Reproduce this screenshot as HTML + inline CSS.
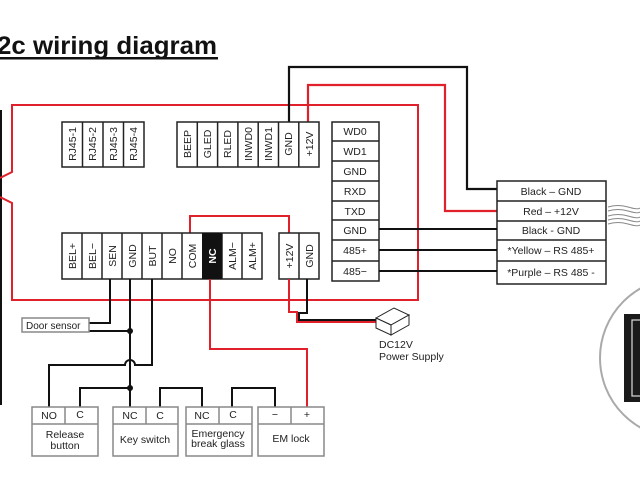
<!DOCTYPE html>
<html><head><meta charset="utf-8"><style>
html,body{margin:0;padding:0;background:#fff;width:640px;height:480px;overflow:hidden}
svg{display:block}
text{font-family:"Liberation Sans",sans-serif;fill:#222}
</style></head><body>
<svg width="640" height="480" viewBox="0 0 640 480" xmlns="http://www.w3.org/2000/svg">
<!-- title -->
<text x="-3" y="54" font-size="25" font-weight="bold" textLength="220" lengthAdjust="spacingAndGlyphs" style="fill:#111">2c wiring diagram</text>
<rect x="0" y="57" width="218" height="2.5" fill="#111"/>

<line x1="1" y1="110" x2="1" y2="405" stroke="#111" stroke-width="2"/>

<polyline points="0,178 12,172 12,105 418,105 418,300 12,300 12,203 0,197" fill="none" stroke="#e0202a" stroke-width="2"/>

<polyline points="289,122 289,67 467,67 467,189 498,189" fill="none" stroke="#111" stroke-width="2.2"/>
<polyline points="308,122 308,85 445,85 445,211 498,211" fill="none" stroke="#e0202a" stroke-width="2.2"/>
<polyline points="190,233 190,216 289,216 289,233" fill="none" stroke="#e0202a" stroke-width="2"/>

<g stroke="#222" stroke-width="1.5" fill="#fff">
<rect x="62" y="122" width="82" height="45"/>
<line x1="82.5" y1="122" x2="82.5" y2="167"/><line x1="103" y1="122" x2="103" y2="167"/><line x1="123.5" y1="122" x2="123.5" y2="167"/>
<rect x="177" y="122" width="142" height="45"/>
<line x1="197.3" y1="122" x2="197.3" y2="167"/><line x1="217.6" y1="122" x2="217.6" y2="167"/><line x1="237.9" y1="122" x2="237.9" y2="167"/><line x1="258.2" y1="122" x2="258.2" y2="167"/><line x1="278.5" y1="122" x2="278.5" y2="167"/><line x1="298.8" y1="122" x2="298.8" y2="167"/>
<rect x="62" y="233" width="200" height="46"/>
<line x1="82" y1="233" x2="82" y2="279"/><line x1="102" y1="233" x2="102" y2="279"/><line x1="122" y1="233" x2="122" y2="279"/><line x1="142" y1="233" x2="142" y2="279"/><line x1="162" y1="233" x2="162" y2="279"/><line x1="182" y1="233" x2="182" y2="279"/><line x1="222" y1="233" x2="222" y2="279"/><line x1="242" y1="233" x2="242" y2="279"/>
<rect x="279" y="233" width="40" height="46"/><line x1="299" y1="233" x2="299" y2="279"/>
<rect x="332" y="122" width="47" height="159"/>
<line x1="332" y1="141" x2="379" y2="141"/><line x1="332" y1="161" x2="379" y2="161"/><line x1="332" y1="181" x2="379" y2="181"/><line x1="332" y1="201" x2="379" y2="201"/><line x1="332" y1="220" x2="379" y2="220"/><line x1="332" y1="240" x2="379" y2="240"/><line x1="332" y1="261" x2="379" y2="261"/>
<rect x="497" y="181" width="109" height="103"/>
<line x1="497" y1="201" x2="606" y2="201"/><line x1="497" y1="221" x2="606" y2="221"/><line x1="497" y1="240" x2="606" y2="240"/><line x1="497" y1="261" x2="606" y2="261"/>
</g>
<rect x="202" y="233" width="20" height="46" fill="#111"/>

<g font-size="10.5" text-anchor="middle">
<text transform="translate(76,144) rotate(-90)">RJ45-1</text>
<text transform="translate(96,144) rotate(-90)">RJ45-2</text>
<text transform="translate(117,144) rotate(-90)">RJ45-3</text>
<text transform="translate(137,144) rotate(-90)">RJ45-4</text>
<text transform="translate(191,144) rotate(-90)">BEEP</text>
<text transform="translate(211,144) rotate(-90)">GLED</text>
<text transform="translate(231,144) rotate(-90)">RLED</text>
<text transform="translate(252,144) rotate(-90)">INWD0</text>
<text transform="translate(272,144) rotate(-90)">INWD1</text>
<text transform="translate(292,144) rotate(-90)">GND</text>
<text transform="translate(313,144) rotate(-90)">+12V</text>
<text transform="translate(76,256) rotate(-90)">BEL+</text>
<text transform="translate(96,256) rotate(-90)">BEL−</text>
<text transform="translate(116,256) rotate(-90)">SEN</text>
<text transform="translate(136,256) rotate(-90)">GND</text>
<text transform="translate(156,256) rotate(-90)">BUT</text>
<text transform="translate(176,256) rotate(-90)">NO</text>
<text transform="translate(196,256) rotate(-90)">COM</text>
<text transform="translate(216,256) rotate(-90)" font-weight="bold" style="fill:#fff">NC</text>
<text transform="translate(236,256) rotate(-90)">ALM−</text>
<text transform="translate(256,256) rotate(-90)">ALM+</text>
<text transform="translate(293,256) rotate(-90)">+12V</text>
<text transform="translate(313,256) rotate(-90)">GND</text>
</g>
<g font-size="10.5" text-anchor="middle">
<text x="355" y="135">WD0</text><text x="355" y="155">WD1</text><text x="355" y="175">GND</text><text x="355" y="195">RXD</text><text x="355" y="215">TXD</text><text x="355" y="234">GND</text><text x="355" y="254">485+</text><text x="355" y="275">485−</text>
<text x="551" y="195">Black – GND</text><text x="551" y="215">Red – +12V</text><text x="551" y="234">Black - GND</text><text x="551" y="254">*Yellow – RS 485+</text><text x="551" y="276">*Purple – RS 485 -</text>
</g>
<g stroke="#111" stroke-width="2">
<line x1="379" y1="229" x2="497" y2="229"/><line x1="379" y1="250" x2="497" y2="250"/><line x1="379" y1="271" x2="497" y2="271"/>
</g>
<g stroke="#888" stroke-width="1" fill="none">
<path d="M608,207 q10,-3 20,0 t12,1"/><path d="M608,211 q10,-3 20,0 t12,1"/><path d="M608,216 q10,-3 20,0 t12,1"/><path d="M608,220 q10,-3 20,0 t12,1"/><path d="M608,224 q10,-3 20,0 t12,1"/>
</g>
<circle cx="680" cy="358" r="80" fill="none" stroke="#aaa" stroke-width="2"/>
<rect x="624" y="314" width="20" height="88" fill="#1a1a1a"/>
<rect x="632" y="320" width="12" height="76" fill="none" stroke="#ddd" stroke-width="1.2"/>

<polyline points="289,279 289,312 297,312 297,322 376,322" fill="none" stroke="#e0202a" stroke-width="2"/>
<polyline points="307,279 307,313 299,313 299,320 376,320" fill="none" stroke="#111" stroke-width="2"/>
<g stroke="#222" stroke-width="1" fill="#fff">
<path d="M376,318 L394,308 L409,315 L391,325 Z"/>
<path d="M376,318 L391,325 L391,335 L376,328 Z"/>
<path d="M391,325 L409,315 L409,325 L391,335 Z"/>
</g>
<text x="379" y="348" font-size="10.5">DC12V</text>
<text x="379" y="360" font-size="10.5">Power Supply</text>

<g fill="none" stroke="#111" stroke-width="2">
<polyline points="110,279 110,323 89,323"/>
<polyline points="89,331 130,331"/>
<line x1="130" y1="279" x2="130" y2="407"/>
<path d="M152,279 L152,365 L135,365 A5,5 0 0 0 125,365 L49,365 L49,407"/>
<polyline points="80,407 80,388 130,388"/>
<polyline points="160,407 160,388 202,388 202,407"/>
<polyline points="232,407 232,388 275,388 275,407"/>
</g>
<circle cx="130" cy="331" r="3" fill="#111"/>
<circle cx="130" cy="388" r="3" fill="#111"/>
<polyline points="210,279 210,349 307,349 307,407" fill="none" stroke="#e0202a" stroke-width="2"/>

<rect x="22" y="318" width="67" height="14" fill="#fff" stroke="#888" stroke-width="1.5"/>
<text x="26" y="329" font-size="10">Door sensor</text>

<g stroke="#888" stroke-width="1.5" fill="#fff">
<rect x="32" y="407" width="66" height="49"/><line x1="32" y1="424" x2="98" y2="424"/><line x1="65" y1="407" x2="65" y2="424"/>
<rect x="113" y="407" width="65" height="49"/><line x1="113" y1="424" x2="178" y2="424"/><line x1="146" y1="407" x2="146" y2="424"/>
<rect x="186" y="407" width="66" height="49"/><line x1="186" y1="424" x2="252" y2="424"/><line x1="219" y1="407" x2="219" y2="424"/>
<rect x="258" y="407" width="66" height="49"/><line x1="258" y1="424" x2="324" y2="424"/><line x1="291" y1="407" x2="291" y2="424"/>
</g>
<g font-size="10.5" text-anchor="middle">
<text x="49" y="419">NO</text><text x="80" y="418">C</text>
<text x="130" y="419">NC</text><text x="160" y="419">C</text>
<text x="202" y="419">NC</text><text x="233" y="418">C</text>
<text x="275" y="418">−</text><text x="307" y="418">+</text>
<text x="65" y="438">Release</text><text x="65" y="449">button</text>
<text x="145" y="443">Key switch</text>
<text x="218" y="437">Emergency</text><text x="218" y="447">break glass</text>
<text x="291" y="442">EM lock</text>
</g>
</svg>
</body></html>
